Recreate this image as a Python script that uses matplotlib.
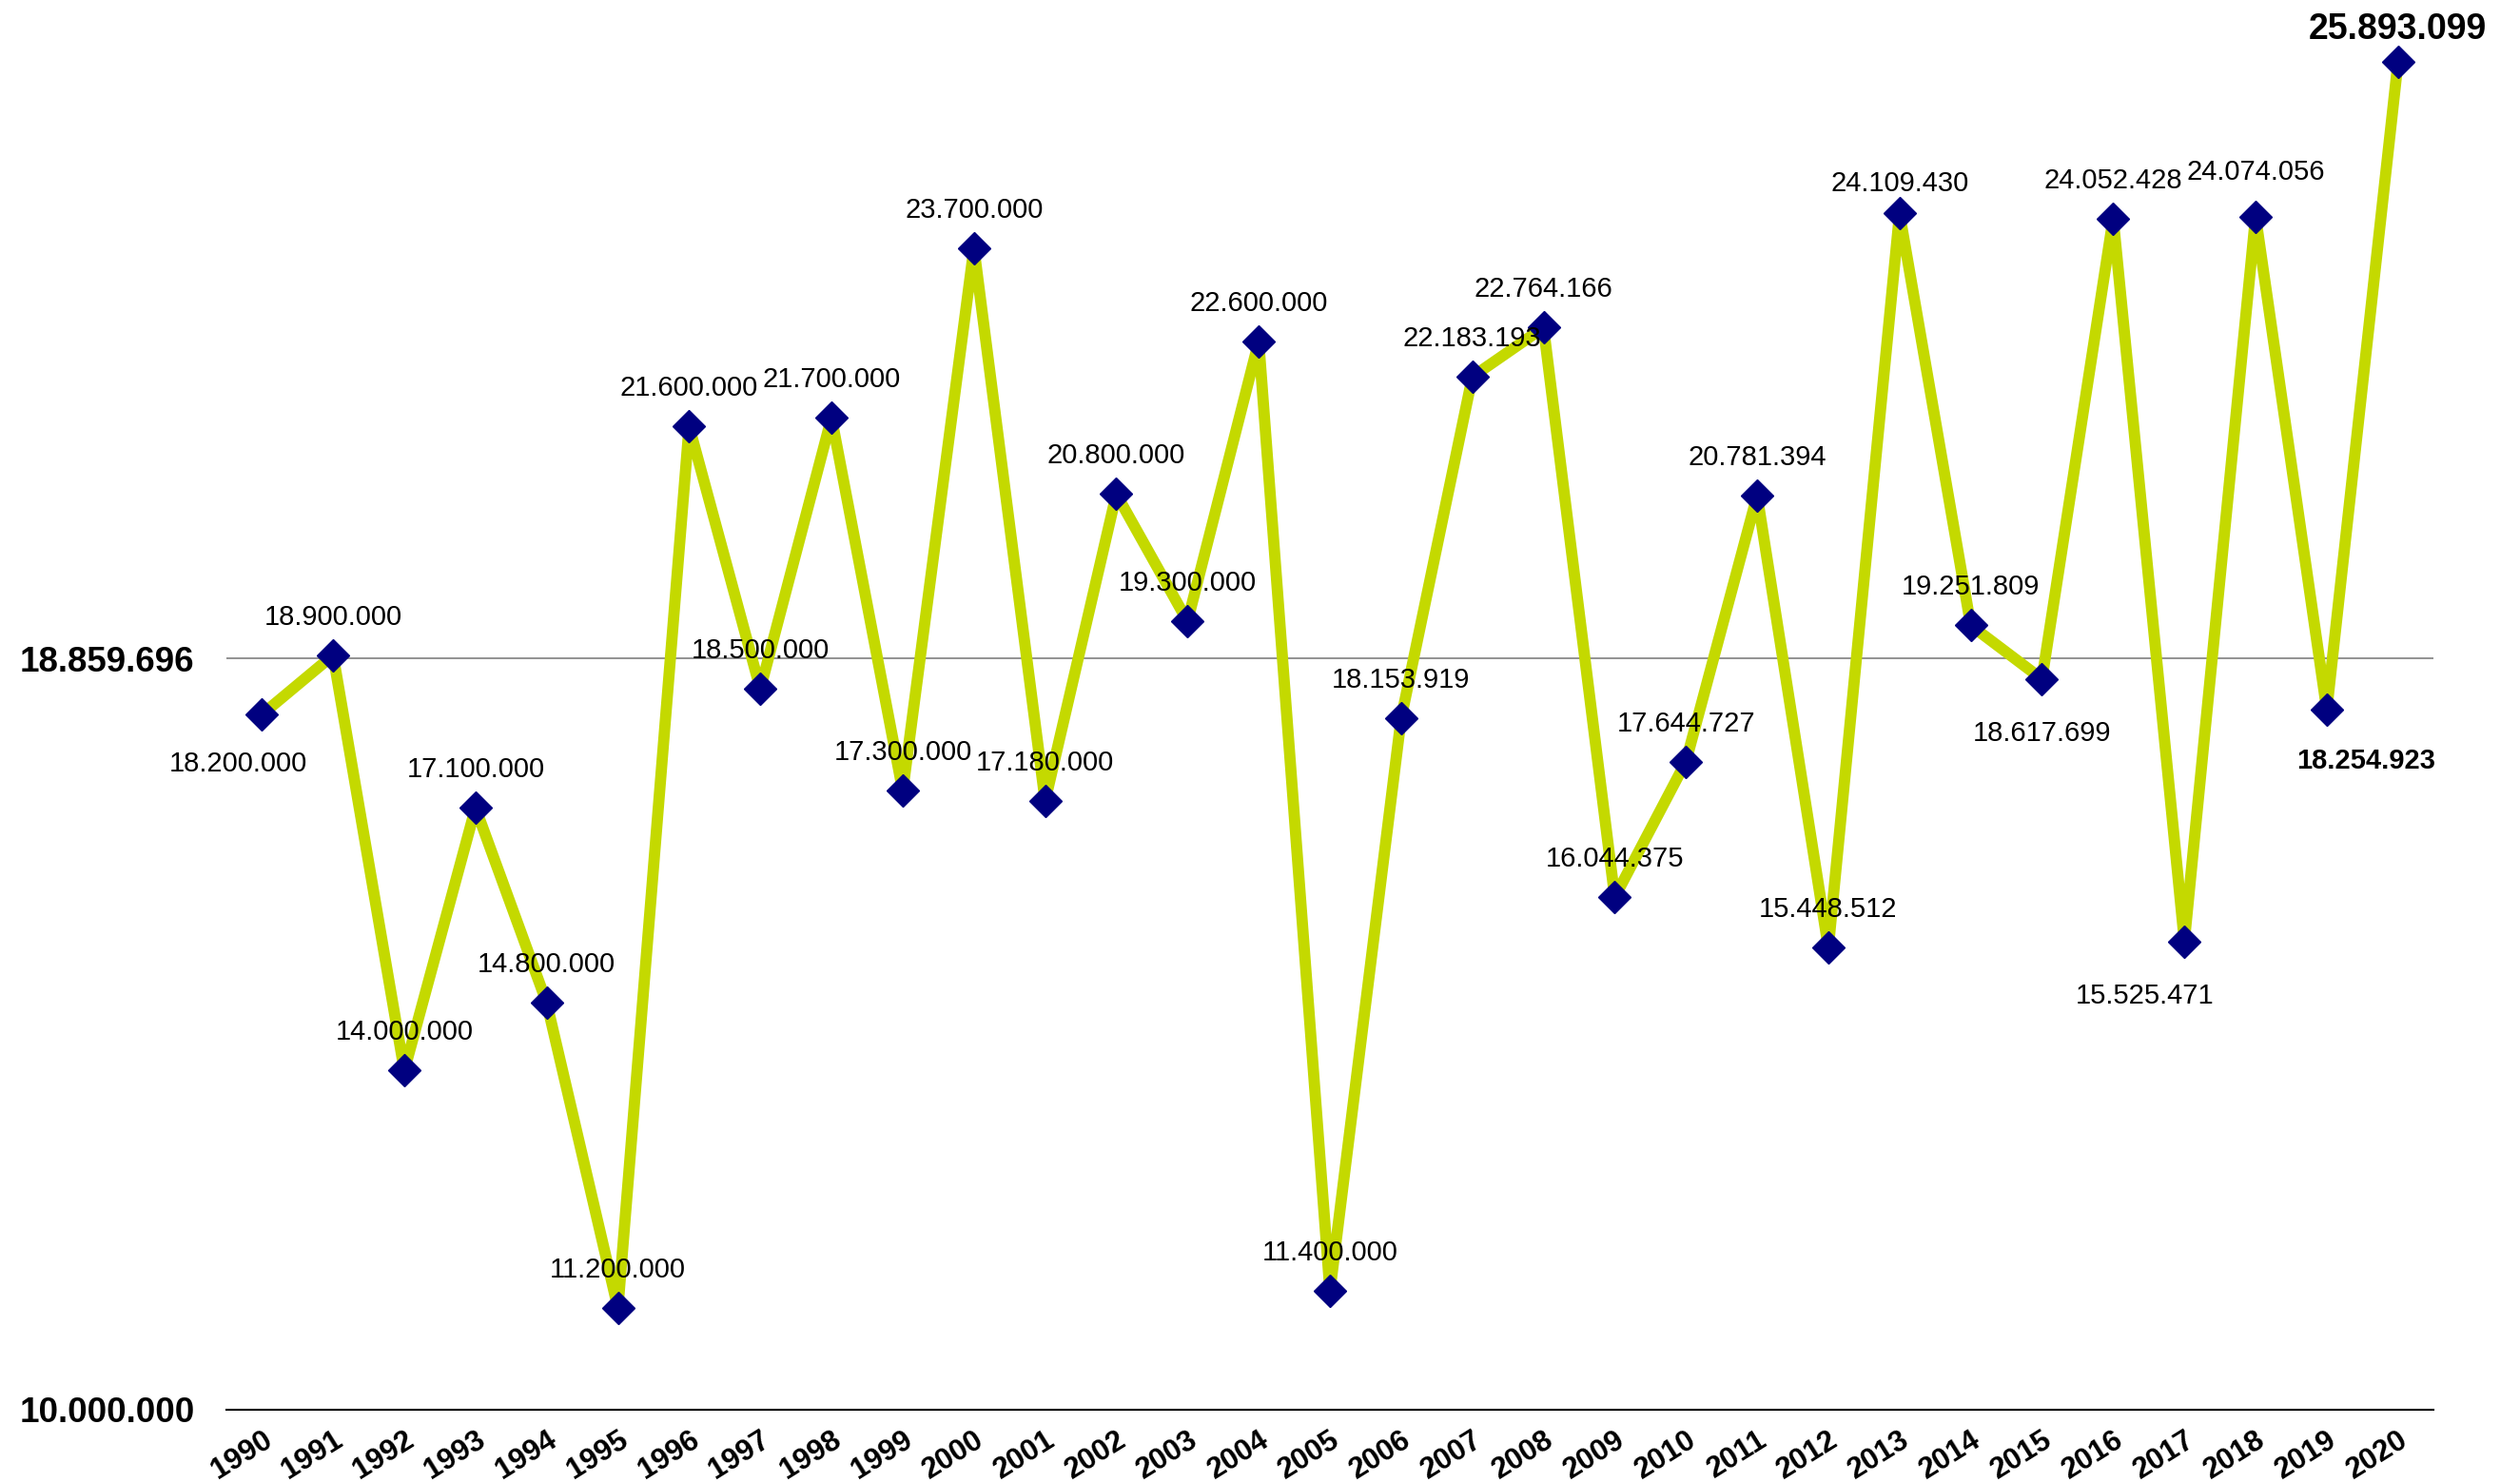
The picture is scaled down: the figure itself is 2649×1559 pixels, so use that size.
import numpy as np
import matplotlib
matplotlib.use('Agg')
import matplotlib.pyplot as plt

plt.rcParams['font.family'] = ['Liberation Sans', 'DejaVu Sans']

# data
years = [str(y) for y in range(1990, 2021)]
values = [18200000, 18900000, 14000000, 17100000, 14800000, 11200000,
          21600000, 18500000, 21700000, 17300000, 23700000, 17180000,
          20800000, 19300000, 22600000, 11400000, 18153919, 22183193,
          22764166, 16044375, 17644727, 20781394, 15448512, 24109430,
          19251809, 18617699, 24052428, 15525471, 24074056, 18254923,
          25893099]
ref_value = 18859696
base_value = 10000000

# label placement (dx, dy) in pixels
label_off = {i: (0, 40) for i in range(len(values))}
label_off[0] = (-25, -52)
label_off[23] = (0, 31)
label_off[25] = (0, -57)
label_off[27] = (-42, -57)
label_off[28] = (0, 47)
label_off[29] = (41, -54)
label_off[30] = (0, 34)


def fmt(v):
    return f"{v:,.0f}".replace(',', '.')


fig = plt.figure(figsize=(26.49, 15.59), dpi=100)
ax = fig.add_axes([0.0898, 0.0494, 0.9657 - 0.0898, 0.987 - 0.0494])

x = np.arange(len(years))
ax.axhline(ref_value, color='#7f7f7f', lw=1.2, zorder=1)
ax.plot(x, values, color='#c4d900', lw=8.5, marker='D', ms=17,
        mfc='#000080', mec='#000080', zorder=3)

for i, v in enumerate(values):
    dx, dy = label_off[i]
    if i == 30:
        kw = dict(fontsize=27, fontweight='bold')
    elif i == 29:
        kw = dict(fontsize=21, fontweight='bold')
    else:
        kw = dict(fontsize=21)
    ax.annotate(fmt(v), (i, v), xytext=(dx, dy), textcoords='offset pixels',
                ha='center', va='center', zorder=4, **kw)

ax.set_xlim(-0.5, len(years) - 0.5)
ax.set_ylim(base_value, 26400000)

for s in ['top', 'right', 'left']:
    ax.spines[s].set_visible(False)
ax.spines['bottom'].set_linewidth(1.5)
ax.spines['bottom'].set_color('black')

ax.set_xticks(x)
ax.set_xticklabels(years, rotation=32, ha='right', rotation_mode='anchor',
                   fontsize=22.5, fontweight='bold')
ax.tick_params(axis='x', length=0, pad=12)

ax.set_yticks([base_value, ref_value])
ax.set_yticklabels([fmt(base_value), fmt(ref_value)], fontweight='bold',
                   fontsize=26.5)
ax.tick_params(axis='y', length=0, pad=24)

fig.savefig('out.png', dpi=100, facecolor='white')
